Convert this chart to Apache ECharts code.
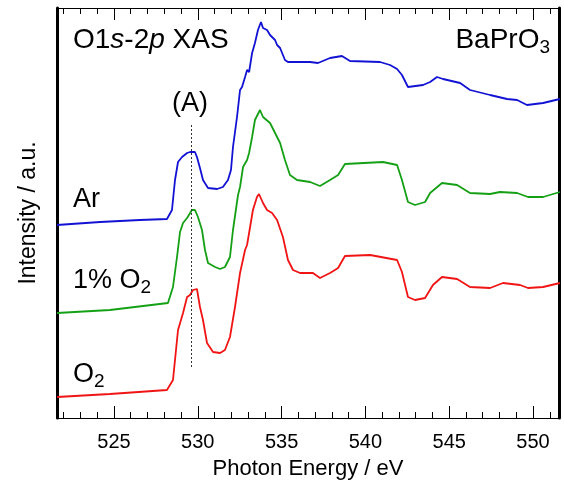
<!DOCTYPE html>
<html lang="en">
<head>
  <meta charset="UTF-8">
  <title>BaPrO3 O1s-2p XAS</title>
  <style>
    html, body{margin: 0; padding: 0; background: #fff}
    #chart{width: 564px; height: 491px}
  </style>
  <script src="https://cdn.jsdelivr.net/npm/echarts@6/dist/echarts.min.js"></script>
</head>
<body>
  <div id="chart"></div>
  <script>
    // photon energy (eV) and intensity (a.u., offset for stacking)
    const arE = [521.6, 524.17, 526.55, 528.16, 528.46, 528.64, 528.82, 529.06, 529.36, 529.54, 529.83, 529.95, 530.13, 530.31, 530.61, 531.15, 531.5, 531.8, 531.98, 532.1, 532.34, 532.52, 532.64, 532.82, 532.94, 533.06, 533.24, 533.41, 533.59, 533.77, 533.89, 534.13, 534.31, 534.61, 534.73, 534.91, 535.2, 535.38, 536.7, 537.17, 537.89, 538.6, 539.08, 540.87, 541.47, 541.89, 542.18, 542.54, 543.44, 543.86, 544.27, 544.63, 545.65, 546.24, 547.44, 548.45, 549.05, 549.64, 550.6, 551.6];
    const arI = [193, 196, 198, 199, 208, 238, 256, 261, 265, 266, 266, 261, 250, 238, 230, 229, 231, 238, 248, 271, 301, 328, 331, 341, 348, 346, 365, 375, 388, 396, 390, 388, 383, 378, 373, 370, 358, 356, 356, 355, 360, 362, 357, 356, 353, 349, 343, 331, 333, 336, 341, 339, 335, 328, 323, 319, 318, 313, 315, 319];

    const o1E = [521.6, 524.76, 528.22, 528.52, 528.76, 528.94, 529.12, 529.36, 529.65, 529.83, 530.01, 530.25, 530.43, 530.61, 531.03, 531.33, 531.62, 531.92, 532.1, 532.4, 532.52, 532.7, 532.94, 533.06, 533.24, 533.41, 533.71, 533.89, 534.31, 534.61, 534.91, 535.2, 535.5, 535.92, 536.7, 537.29, 537.89, 538.37, 538.78, 541.05, 541.89, 542.18, 542.54, 542.96, 543.56, 543.86, 544.57, 545.47, 546.24, 547.44, 548.03, 549.05, 549.7, 550.6, 551.6];
    const o1I = [105, 108, 115, 131, 161, 186, 195, 200, 208, 208, 201, 188, 168, 155, 151, 149, 151, 161, 188, 223, 231, 251, 258, 265, 281, 298, 308, 301, 295, 285, 275, 258, 243, 238, 236, 232, 238, 243, 254, 256, 253, 238, 216, 213, 216, 225, 235, 233, 225, 224, 226, 225, 221, 221, 226];

    const o2E = [521.6, 524.76, 528.16, 528.52, 528.82, 529.12, 529.36, 529.54, 529.71, 529.95, 530.13, 530.31, 530.55, 530.91, 531.33, 531.62, 531.92, 532.22, 532.52, 532.82, 532.94, 533.12, 533.29, 533.53, 533.65, 533.89, 534.13, 534.43, 534.73, 535.08, 535.38, 535.68, 536.1, 536.87, 537.29, 537.89, 538.37, 538.78, 540.28, 541.89, 542.18, 542.54, 542.96, 543.56, 544.03, 544.57, 545.47, 546.24, 547.44, 548.21, 549.23, 549.7, 550.6, 551.6];
    const o2I = [21, 24, 28, 38, 88, 105, 121, 123, 128, 129, 111, 98, 75, 66, 65, 68, 81, 111, 145, 168, 173, 191, 208, 221, 224, 215, 208, 205, 198, 181, 158, 148, 145, 145, 140, 145, 150, 162, 163, 158, 146, 121, 118, 120, 133, 141, 139, 131, 130, 135, 133, 130, 131, 135];

    const majorTicks = [525, 530, 535, 540, 545, 550];
    const minorTicks = [522, 523, 524, 526, 527, 528, 529, 531, 532, 533, 534, 536, 537, 538, 539, 541, 542, 543, 544, 546, 547, 548, 549, 551];
    const peakA = 529.6;
    const peakSpan = [51, 293];

    const xMin = 521.6, xMax = 551.55;
    const font = 'Liberation Sans, Arial, sans-serif';

    const zip = (e, v) => e.map((x, i) => [x, v[i]]);

    function xAx(pos, ticks, len, opts){
      return Object.assign({
        type: 'value', position: pos, min: xMin, max: xMax,
        axisLine: {show: true, onZero: false, lineStyle: {color: '#000', width: 1}},
        axisTick: {show: true, inside: true, length: len, customValues: ticks, lineStyle: {color: '#000', width: 1}},
        axisLabel: {show: false},
        splitLine: {show: false}
      }, opts || {});
    }

    const sub = {fontSize: 19, fontFamily: font, padding: [15, 0, 0, 0]};

    const chart = echarts.init(document.getElementById('chart'));
    chart.setOption({
      animation: false,
      grid: {left: 57, right: 5, top: 8, bottom: 73},
      xAxis: [
        xAx('bottom', majorTicks, 12, {
          axisLabel: {show: true, customValues: majorTicks, color: '#000', fontSize: 20, fontFamily: font, margin: 14},
          name: 'Photon Energy / eV', nameLocation: 'middle', nameGap: 40,
          nameTextStyle: {color: '#000', fontSize: 22, fontFamily: font}
        }),
        xAx('bottom', minorTicks, 6),
        xAx('top', majorTicks, 12),
        xAx('top', minorTicks, 6)
      ],
      yAxis: [{
        type: 'value', min: 0, max: 410, position: 'left',
        axisLine: {show: true, lineStyle: {color: '#000', width: 3}},
        axisTick: {show: false}, axisLabel: {show: false}, splitLine: {show: false},
        name: 'Intensity / a.u.', nameLocation: 'middle', nameGap: 17,
        nameTextStyle: {color: '#000', fontSize: 23, fontFamily: font}
      }, {
        type: 'value', min: 0, max: 410, position: 'right',
        axisLine: {show: true, lineStyle: {color: '#000', width: 3}},
        axisTick: {show: false}, axisLabel: {show: false}, splitLine: {show: false}
      }],
      series: [{
        name: 'Ar', type: 'line', data: zip(arE, arI), showSymbol: false,
        lineStyle: {color: '#1212d4', width: 1.8}
      }, {
        name: '1% O2', type: 'line', data: zip(o1E, o1I), showSymbol: false,
        lineStyle: {color: '#14a014', width: 1.8}
      }, {
        name: 'O2', type: 'line', data: zip(o2E, o2I), showSymbol: false,
        lineStyle: {color: '#f01414', width: 1.8},
        markLine: {
          silent: true, symbol: 'none', label: {show: false},
          lineStyle: {color: '#333', type: [2, 2], width: 1},
          data: [[{coord: [peakA, peakSpan[0]]}, {coord: [peakA, peakSpan[1]]}]]
        }
      }],
      graphic: [
        {type: 'text', left: 73, top: 26, style: {
          text: 'O1{i|s}-2{i|p} XAS', fill: '#000', font: '28px ' + font,
          rich: {i: {fontStyle: 'italic', fontSize: 28, fontFamily: font}}
        }},
        {type: 'text', right: 14, top: 26, style: {
          text: 'BaPrO{s|3}', fill: '#000', font: '28px ' + font,
          rich: {s: sub}
        }},
        {type: 'text', left: 172, top: 90, style: {text: '(A)', fill: '#000', font: '27px ' + font}},
        {type: 'text', left: 73, top: 186, style: {text: 'Ar', fill: '#000', font: '27px ' + font}},
        {type: 'text', left: 73, top: 267, style: {
          text: '1% O{s|2}', fill: '#000', font: '27px ' + font,
          rich: {s: sub}
        }},
        {type: 'text', left: 73, top: 361, style: {
          text: 'O{s|2}', fill: '#000', font: '27px ' + font,
          rich: {s: sub}
        }}
      ]
    });
  </script>
</body>
</html>
